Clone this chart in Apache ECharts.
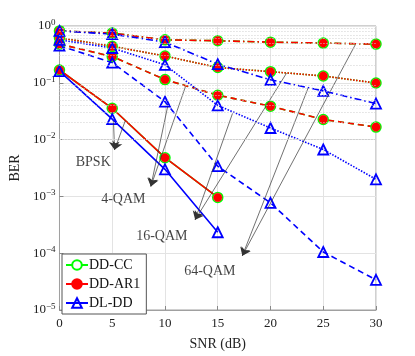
<!DOCTYPE html>
<html>
<head>
<meta charset="utf-8">
<script src="https://cdn.jsdelivr.net/npm/echarts@6/dist/echarts.min.js"></script>
<style>
  html, body { margin: 0; padding: 0; background: #fff; }
  #chart { width: 415px; height: 356px; }
</style>
</head>
<body>
<div id="chart"></div>
<script>
// SNR points (dB)
const snr = [0, 5, 10, 15, 20, 25, 30];
const snrBpsk = [0, 5, 10, 15];

// BER; DD-CC sits right under DD-AR1
const ccBpsk  = [0.168, 0.0356, 0.0048, 0.00096];
const ar1Bpsk = [0.168, 0.0356, 0.0048, 0.00096];
const dlBpsk  = [0.16, 0.023, 0.0030, 0.000234];

const ccQam4  = [0.48, 0.29, 0.114, 0.0605, 0.0388, 0.0226, 0.0166];
const ar1Qam4 = [0.48, 0.29, 0.114, 0.0605, 0.0388, 0.0226, 0.0166];
const dlQam4  = [0.45, 0.227, 0.0465, 0.0034, 0.00077, 0.000105, 3.4e-5];

const ccQam16  = [0.62, 0.44, 0.296, 0.186, 0.157, 0.132, 0.099];
const ar1Qam16 = [0.62, 0.44, 0.296, 0.186, 0.157, 0.132, 0.099];
const dlQam16  = [0.57, 0.41, 0.207, 0.040, 0.0160, 0.0067, 0.0020];

const ccQam64  = [0.82, 0.75, 0.57, 0.55, 0.52, 0.50, 0.48];
const ar1Qam64 = [0.82, 0.75, 0.57, 0.55, 0.52, 0.50, 0.48];
const dlQam64  = [0.82, 0.72, 0.52, 0.213, 0.113, 0.072, 0.043];

// annotation text and arrows, in data coordinates [SNR, BER]
const modNames = ["BPSK", "4-QAM", "16-QAM", "64-QAM"];
const labelAt = [[3.2, 0.0039], [6.05, 0.00090], [9.7, 0.000198], [14.25, 4.7e-5]];
const arrowTo = [[5.22, 0.0066], [8.66, 0.0015], [12.86, 0.00039], [17.33, 9.0e-5]];
const arrowFromA = [[5.12, 0.021], [10.25, 0.038], [16.4, 0.0289], [23.57, 0.0813]];
const arrowFromB = [[6.24, 0.0216], [11.93, 0.0846], [21.52, 0.148], [28.04, 0.469]];

const serif = "Liberation Serif";
const dashes = ["solid", [6, 4], [1.5, 1.5], [7, 3, 1.5, 3]];
const mods = [
  { x: snrBpsk, cc: ccBpsk, ar1: ar1Bpsk, dl: dlBpsk },
  { x: snr, cc: ccQam4, ar1: ar1Qam4, dl: dlQam4 },
  { x: snr, cc: ccQam16, ar1: ar1Qam16, dl: dlQam16 },
  { x: snr, cc: ccQam64, ar1: ar1Qam64, dl: dlQam64 }
];

const methods = [
  { name: "DD-CC", key: "cc", color: "#00ff00", symbol: "circle", size: 10,
    item: { color: "#fff", borderColor: "#00ff00", borderWidth: 1.5 } },
  { name: "DD-AR1", key: "ar1", color: "#ff0000", symbol: "circle", size: 8.5,
    item: { color: "#ff0000", borderColor: "#ff0000", borderWidth: 0.5 } },
  { name: "DL-DD", key: "dl", color: "#0000ff", symbol: "triangle", size: 10,
    item: { color: "rgba(0,0,0,0)", borderColor: "#0000ff", borderWidth: 1.8 } }
];

const pairs = (xs, ys) => xs.map((x, i) => [x, ys[i]]);

// minor log grid lines at 2..9 x 10^k
const minorY = [];
for (let k = -5; k < 0; k++) {
  for (let m = 2; m <= 9; m++) minorY.push({ yAxis: m * Math.pow(10, k) });
}

const series = [];
methods.forEach(m => {
  mods.forEach((md, j) => {
    series.push({
      name: m.name,
      type: "line",
      data: pairs(md.x, md[m.key]),
      symbol: m.symbol,
      symbolSize: m.size,
      showAllSymbol: true,
      lineStyle: { color: m.color, width: 1.6, type: dashes[j] },
      itemStyle: m.item,
      z: 3
    });
  });
});

// minor grid goes on a bare series below everything
series.unshift({
  name: "grid",
  type: "line",
  data: [],
  silent: true,
  z: 1,
  markLine: {
    silent: true,
    symbol: "none",
    label: { show: false },
    lineStyle: { color: "#cfcfcf", type: [1, 2], width: 1 },
    data: minorY
  }
});

series.push({
  name: "arrows",
  type: "lines",
  coordinateSystem: "cartesian2d",
  z: 4,
  symbol: ["none", "arrow"],
  symbolSize: 8,
  lineStyle: { color: "#333", width: 0.7, opacity: 1 },
  data: arrowTo.map((t, i) => ({ coords: [arrowFromA[i], t] }))
    .concat(arrowTo.map((t, i) => ({ coords: [arrowFromB[i], t] })))
});

series.push({
  name: "labels",
  type: "scatter",
  symbolSize: 0,
  z: 5,
  silent: true,
  label: {
    show: true, position: "inside", formatter: "{b}",
    color: "#111", fontFamily: serif, fontSize: 14
  },
  data: labelAt.map((p, i) => ({ name: modNames[i], value: p }))
});

const option = {
  animation: false,
  backgroundColor: "#fff",
  textStyle: { fontFamily: serif },
  grid: {
    left: 54, right: 39, top: 26, bottom: 41,
    show: true, borderColor: "#a0a0a0", borderWidth: 1
  },
  legend: {
    data: ["DD-CC", "DD-AR1", "DL-DD"],
    orient: "vertical",
    left: 62, top: 254,
    itemWidth: 22, itemHeight: 12, itemGap: 5,
    padding: [4, 6, 4, 3],
    backgroundColor: "#fff",
    borderColor: "#555", borderWidth: 1,
    textStyle: { fontFamily: serif, fontSize: 14, color: "#111", padding: [0, 0, 0, -4] }
  },
  xAxis: {
    type: "value",
    min: 0, max: 30, interval: 5,
    name: "SNR (dB)",
    nameLocation: "middle",
    nameGap: 27,
    nameTextStyle: { fontFamily: serif, fontSize: 14, color: "#222" },
    axisLine: { lineStyle: { color: "#a0a0a0" } },
    axisTick: { inside: true, length: 4, lineStyle: { color: "#888" } },
    axisLabel: { fontFamily: serif, fontSize: 13, color: "#222", margin: 7 },
    splitLine: { lineStyle: { color: "#e3e3e3" } }
  },
  yAxis: {
    type: "log",
    logBase: 10,
    min: 1e-5, max: 1,
    name: "BER",
    nameLocation: "middle",
    nameGap: 37,
    nameTextStyle: { fontFamily: serif, fontSize: 14, color: "#222" },
    axisLine: { lineStyle: { color: "#a0a0a0" } },
    axisTick: { inside: true, length: 4, lineStyle: { color: "#888" } },
    axisLabel: {
      margin: 4,
      color: "#222",
      formatter: v => {
        const e = Math.round(Math.log10(v));
        return "{b|10}{s|" + (e === 0 ? "0" : "\u2212" + (-e)) + "}";
      },
      rich: {
        b: { fontFamily: serif, fontSize: 13, color: "#222", lineHeight: 16 },
        s: { fontFamily: serif, fontSize: 9, color: "#222", verticalAlign: "top", lineHeight: 9 }
      }
    },
    splitLine: { lineStyle: { color: "#e3e3e3" } }
  },
  series: series
};

const chart = echarts.init(document.getElementById("chart"));
chart.setOption(option);
</script>
</body>
</html>
